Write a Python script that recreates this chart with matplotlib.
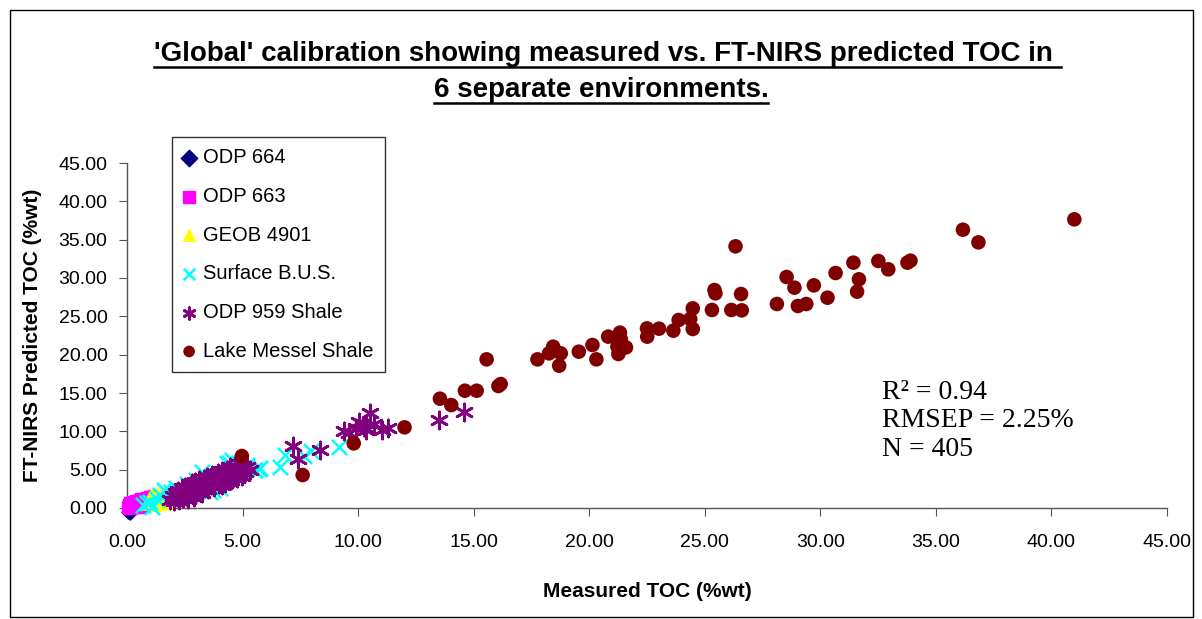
import matplotlib
matplotlib.use('Agg')
import matplotlib.pyplot as plt
from matplotlib.patches import Rectangle
from matplotlib.lines import Line2D
import numpy as np

# ---- data (Measured TOC, Predicted TOC) ----
odp664_x = [0.05, 0.10, 0.15, 0.20, 0.08, 0.25, 0.12, 0.30]
odp664_y = [-0.50, -0.30, 0.00, -0.20, 0.10, 0.20, -0.60, 0.10]

odp663_x = [0.05, 0.08, 0.12, 0.15, 0.18, 0.22, 0.25, 0.28, 0.32, 0.35, 0.38, 0.42,
            0.45, 0.48, 0.52, 0.55, 0.58, 0.62, 0.65, 0.68, 0.72, 0.75, 0.78, 0.82,
            0.85, 0.88, 0.92, 0.95, 0.98, 1.02, 1.05, 1.10, 1.15, 1.20, 0.30, 0.50,
            0.70, 0.90, 0.40, 0.60]
odp663_y = [0.10, 0.40, 0.00, 0.60, 0.20, 0.50, 0.80, 0.10, 0.60, 0.30, 0.90, 0.50,
            0.20, 0.80, 0.40, 1.00, 0.60, 0.30, 0.90, 1.10, 0.50, 0.80, 1.20, 0.70,
            1.00, 1.30, 0.60, 1.10, 1.40, 0.90, 1.50, 1.20, 1.60, 1.40, 0.30, 0.10,
            0.40, 0.70, 0.70, 1.20]

geob_x = [0.90, 0.95, 1.00, 1.05, 1.10, 1.15, 1.20, 1.25, 1.30, 1.35, 1.40, 1.45,
          1.50, 1.55, 1.60, 1.65, 1.70, 1.75, 1.80, 1.85]
geob_y = [0.60, 1.10, 1.40, 0.80, 1.70, 1.20, 0.50, 1.50, 0.90, 1.80, 1.30, 0.70,
          1.60, 1.00, 1.90, 1.40, 0.80, 1.70, 1.20, 1.50]

bus_x = [0.71, 0.85, 1.00, 1.07, 1.43, 1.50, 1.58, 1.72, 1.90, 2.10, 2.60, 3.24,
         3.60, 3.74, 4.03, 4.32, 4.54, 4.40, 5.19, 5.19, 5.48, 5.55, 5.77, 5.69,
         6.60, 6.85, 7.64, 7.96, 9.16, 3.00, 2.80, 4.80, 1.30, 2.30]
bus_y = [0.39, 0.61, 0.83, 0.17, 1.70, 1.50, 2.35, 1.91, 2.10, 2.60, 3.10, 4.74,
         2.13, 2.35, 2.57, 5.83, 6.26, 5.90, 5.17, 5.61, 4.96, 4.96, 5.17, 5.04,
         5.30, 6.91, 6.78, 7.43, 8.00, 3.60, 2.30, 5.90, 1.20, 1.50]

odp959_x = [1.85, 1.97, 2.04, 2.12, 2.16, 2.21, 2.27, 2.31, 2.36, 2.42, 2.46, 2.52,
            2.57, 2.61, 2.66, 2.72, 2.76, 2.81, 2.87, 2.91, 2.96, 3.02, 3.06, 3.11,
            3.17, 3.21, 3.26, 3.32, 3.36, 3.41, 3.47, 3.51, 3.56, 3.62, 3.66, 3.71,
            3.77, 3.81, 3.86, 3.92, 3.96, 4.01, 4.07, 4.11, 4.16, 4.22, 4.26, 4.31,
            4.37, 4.41, 4.46, 4.52, 4.56, 4.61, 4.67, 4.71, 4.76, 4.82, 4.86, 4.91,
            4.97, 5.02, 5.12, 5.21, 5.31, 3.23, 3.58, 4.12, 2.41, 2.88,
            7.18, 7.38, 8.37, 9.38, 9.59, 10.03, 10.24, 10.50, 10.32, 11.04, 11.28,
            13.52, 14.58, 10.70, 9.90]
odp959_y = [1.10, 1.60, 0.90, 1.90, 1.40, 2.20, 1.00, 1.70, 2.60, 1.30, 2.00, 2.80,
            1.60, 2.30, 1.20, 2.90, 2.00, 3.20, 1.70, 2.50, 3.40, 2.10, 2.80, 3.60,
            2.40, 3.10, 1.90, 3.80, 2.70, 3.30, 4.10, 2.50, 3.60, 3.00, 4.30, 3.40,
            2.80, 4.00, 3.60, 4.60, 3.10, 4.20, 3.50, 4.80, 3.90, 3.30, 4.50, 5.00,
            3.80, 4.30, 5.30, 3.70, 4.70, 4.10, 5.50, 4.50, 3.90, 5.20, 4.60, 5.80,
            4.20, 5.00, 4.70, 5.40, 4.90, 2.60, 3.90, 3.00, 2.40, 1.50,
            8.09, 6.35, 7.57, 10.09, 9.74, 11.26, 10.61, 12.35, 10.17, 10.17, 10.48,
            11.48, 12.48, 10.90, 10.40]

messel_x = [4.97, 7.60, 9.81, 12.01, 13.54, 14.03, 14.62, 15.13, 15.56, 16.07, 16.17,
            17.76, 18.26, 18.44, 18.77, 18.70, 19.55, 20.14, 20.31, 20.82, 21.33, 21.22,
            21.59, 21.26, 21.37, 22.50, 22.51, 23.02, 23.64, 23.87, 24.37, 24.48, 24.48,
            25.31, 25.42, 25.46, 26.15, 26.33, 26.57, 26.60, 28.12, 28.54, 28.88, 29.03,
            29.39, 29.72, 30.31, 30.66, 31.43, 31.67, 31.59, 32.51, 32.94, 33.77, 33.90,
            36.17, 36.84, 40.99]
messel_y = [6.78, 4.30, 8.43, 10.52, 14.26, 13.43, 15.30, 15.30, 19.39, 15.91, 16.17,
            19.39, 20.17, 21.04, 20.17, 18.56, 20.39, 21.26, 19.39, 22.35, 22.87, 21.04,
            20.95, 20.09, 22.00, 23.43, 22.35, 23.39, 23.13, 24.52, 24.65, 26.04, 23.35,
            25.83, 28.43, 28.00, 25.83, 34.13, 27.91, 25.78, 26.61, 30.13, 28.74, 26.35,
            26.61, 29.04, 27.43, 30.65, 32.00, 29.83, 28.22, 32.22, 31.13, 32.00, 32.26,
            36.30, 34.65, 37.65]

series_names = ['ODP 664', 'ODP 663', 'GEOB 4901', 'Surface B.U.S.',
                'ODP 959 Shale', 'Lake Messel Shale']
ticks = np.arange(0, 46, 5)

# ---- figure ----
fig = plt.figure(figsize=(12.02, 6.19), dpi=100)
ax = fig.add_axes([127 / 1202, 1 - 508 / 619, 1040 / 1202, 345 / 619])

styles = [
    (odp664_x, odp664_y, dict(marker='D', s=45, color='#000080')),
    (odp663_x, odp663_y, dict(marker='s', s=70, color='#FF00FF')),
    (geob_x, geob_y, dict(marker='^', s=90, color='#FFFF00')),
    (bus_x, bus_y, dict(marker='x', s=120, color='#00FFFF', linewidths=1.8)),
    (odp959_x, odp959_y, dict(marker=(6, 2, 0), s=150, color='#800080', linewidths=2.0)),
    (messel_x, messel_y, dict(marker='o', s=110, color='#800000', edgecolors='none')),
]
for (xs, ys, kw), name in zip(styles, series_names):
    ax.scatter(xs, ys, label=name, clip_on=False, zorder=3, **kw)

ax.set_xlim(0, 45)
ax.set_ylim(0, 45)
ax.set_xticks(ticks)
ax.set_yticks(ticks)
ax.set_xticklabels(['%.2f' % t for t in ticks])
ax.set_yticklabels(['%.2f' % t for t in ticks])
for side in ['top', 'right']:
    ax.spines[side].set_visible(False)
for side in ['left', 'bottom']:
    ax.spines[side].set_color('#555555')
    ax.spines[side].set_linewidth(1.0)
ax.tick_params(axis='x', direction='out', length=6, color='#555555', labelsize=14, pad=13)
ax.tick_params(axis='y', direction='out', length=6, color='#555555', labelsize=14, pad=8)
for lab in ax.get_xticklabels() + ax.get_yticklabels():
    lab.set_fontfamily('Liberation Sans')

ax.set_xlabel('Measured TOC (%wt)', fontsize=15, fontweight='bold',
              fontfamily='Liberation Sans', labelpad=22)
ax.set_ylabel('FT-NIRS Predicted TOC (%wt)', fontsize=15, fontweight='bold',
              fontfamily='Liberation Sans', labelpad=12)

# title, bold and underlined
t1 = fig.text(0.5055, 1 - 54 / 619, "'Global' calibration showing measured vs. FT-NIRS predicted TOC in ",
              ha='center', va='center', fontsize=20, fontweight='bold', fontfamily='Liberation Sans')
t2 = fig.text(0.5, 1 - 90 / 619, '6 separate environments.',
              ha='center', va='center', fontsize=20, fontweight='bold', fontfamily='Liberation Sans')
fig.canvas.draw()
for t in (t1, t2):
    bb = t.get_window_extent().transformed(fig.transFigure.inverted())
    yline = bb.y0 + 0.1 * (bb.y1 - bb.y0) - 0.004
    fig.add_artist(Line2D([bb.x0, bb.x1], [yline, yline], color='black', lw=1.8))

# statistics text
fig.text(882 / 1202, 1 - 380 / 619, 'R² = 0.94\nRMSEP = 2.25%\nN = 405',
         ha='left', va='top', fontsize=20, fontfamily='Liberation Serif', linespacing=1.18)

# legend
leg = fig.legend(loc='upper left', bbox_to_anchor=(172 / 1202, 1 - 137 / 619),
                 frameon=True, fancybox=False, edgecolor='black',
                 handlelength=0.6, handletextpad=0.4, labelspacing=0.98,
                 borderpad=0.55, borderaxespad=0, scatterpoints=1,
                 prop={'family': 'Liberation Sans', 'size': 14.5})
leg.get_frame().set_linewidth(1.0)
for h in leg.legend_handles:
    h.set_sizes([70])

# outer chart border
fig.add_artist(Rectangle((10 / 1202, 2 / 619), 1183 / 1202, 607 / 619,
                         transform=fig.transFigure, fill=False, edgecolor='black', lw=1.0))

fig.savefig('out.png', dpi=100)
